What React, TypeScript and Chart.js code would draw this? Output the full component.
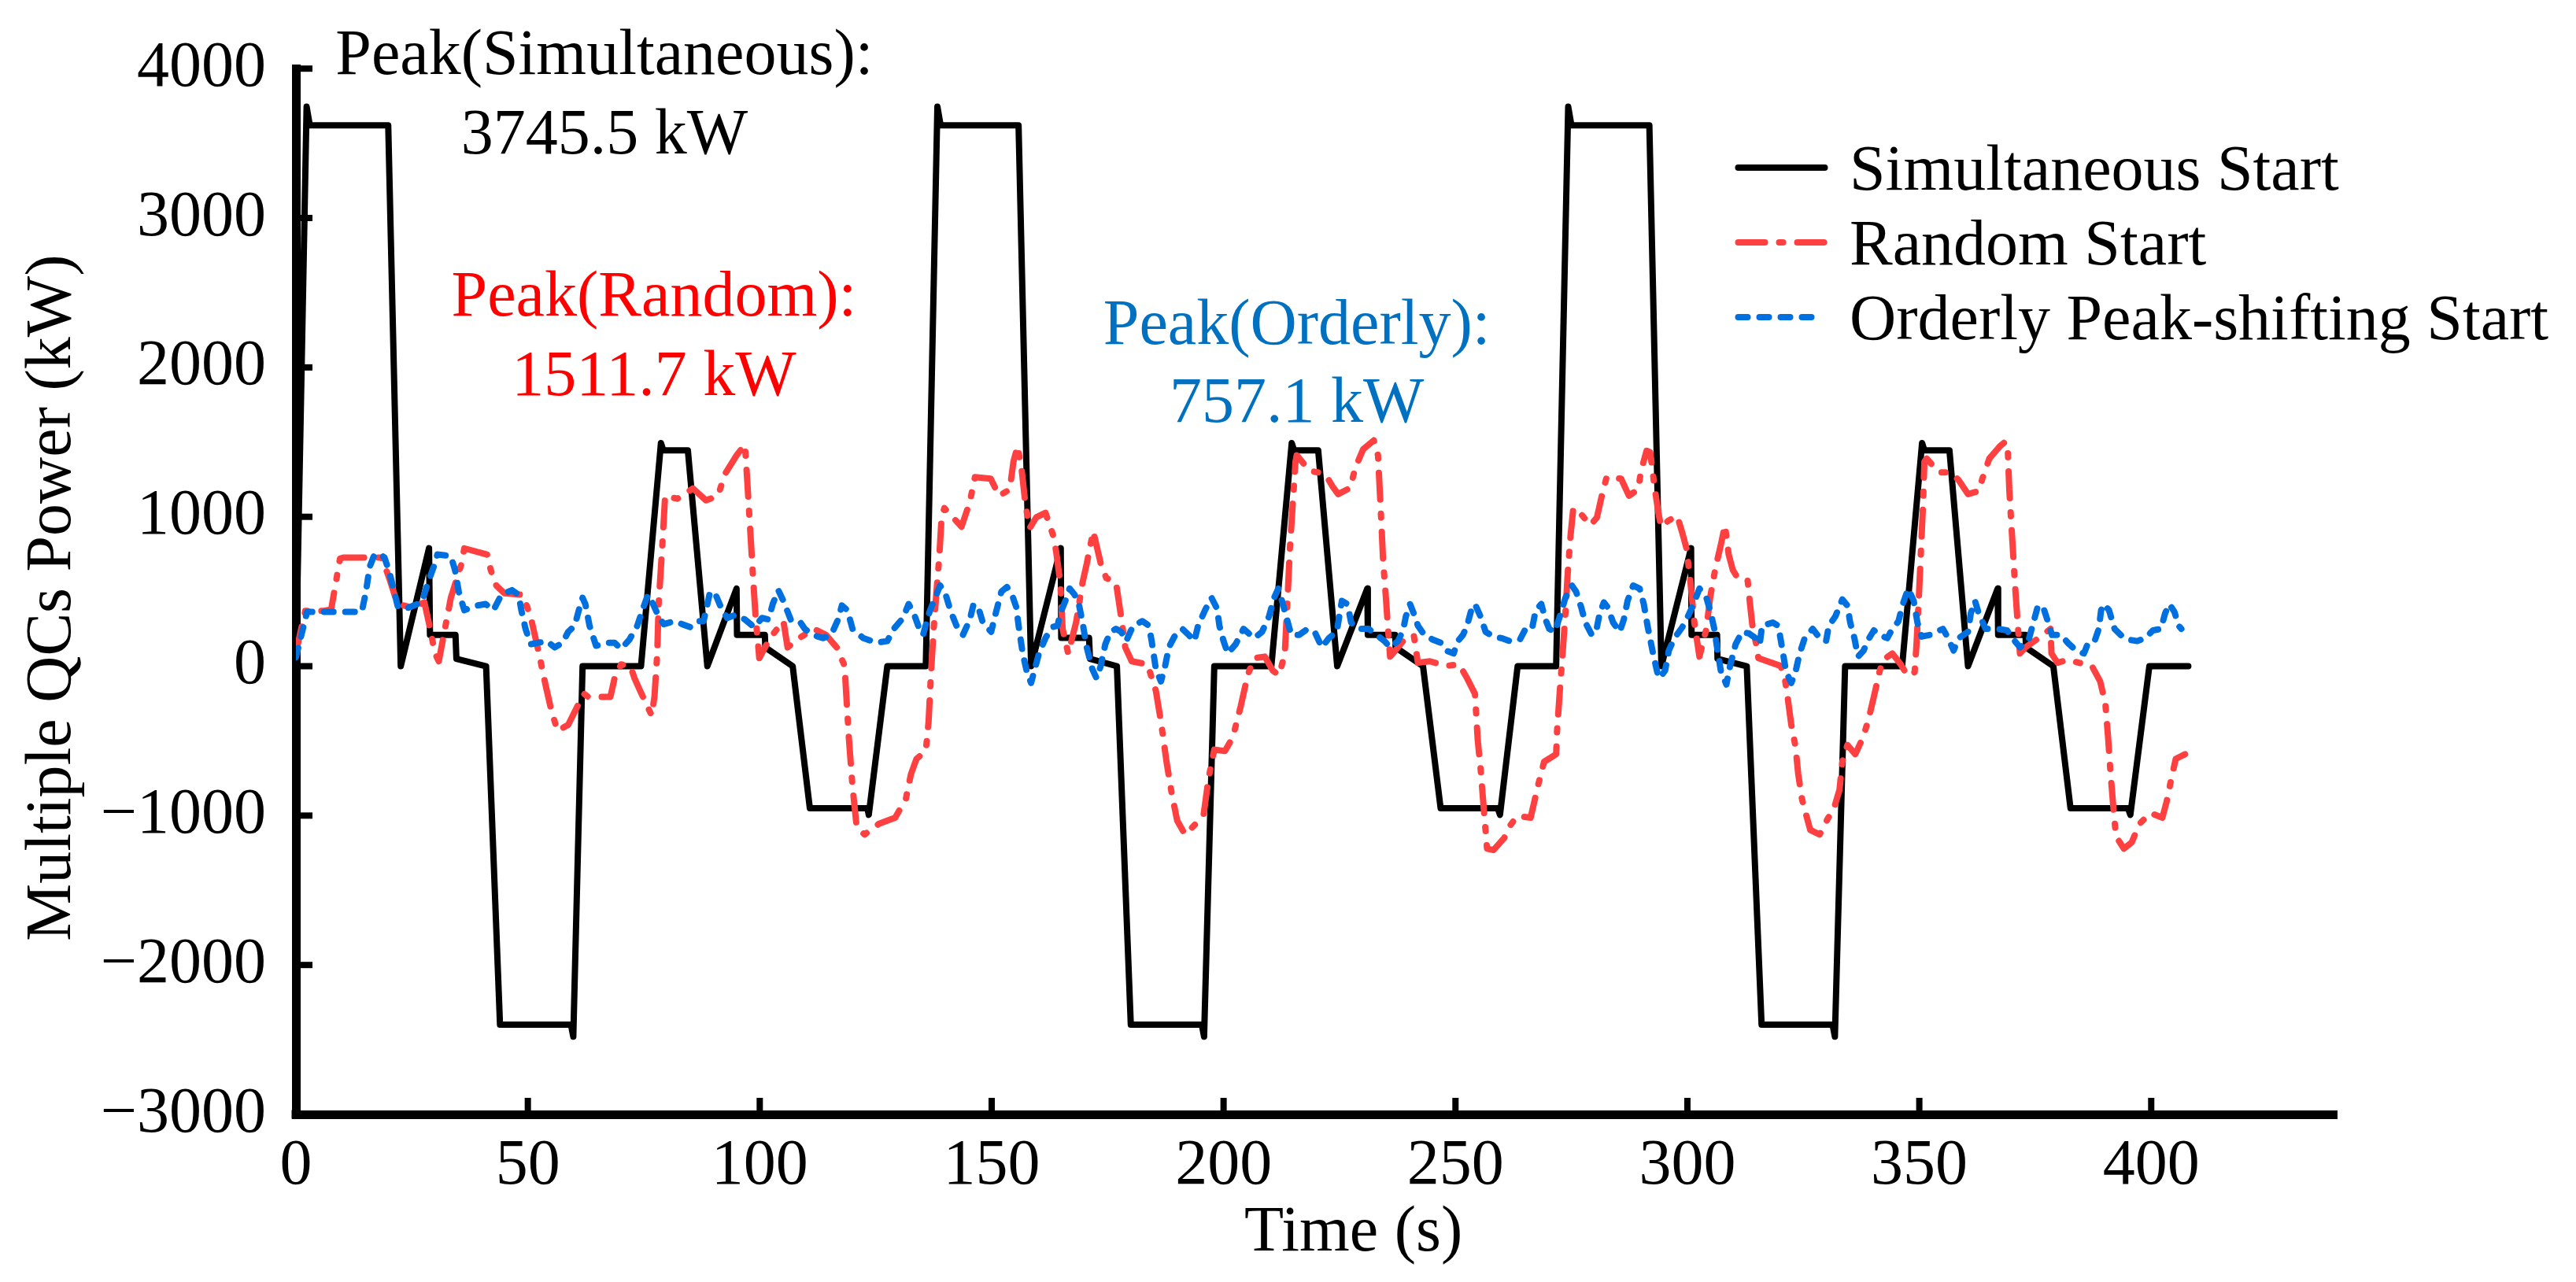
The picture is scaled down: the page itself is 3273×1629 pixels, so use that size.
import { useEffect, useRef } from "react"
import { Chart, registerables } from "chart.js"

Chart.register(...registerables)

const FONT = "'Liberation Serif', 'Times New Roman', serif"
const FONT_SIZE = 82

// axis ticks
const X_TICKS = [0, 50, 100, 150, 200, 250, 300, 350, 400]
const Y_TICKS = [-3000, -2000, -1000, 0, 1000, 2000, 3000, 4000]

const seriesLabels = ["Simultaneous Start", "Random Start", "Orderly Peak-shifting Start"]

// Simultaneous start (piecewise linear)
const simultaneousTime = [
  0, 2.3, 3, 19.9, 22.6, 28.7, 28.9, 34.4, 34.6, 41, 44, 59.3, 59.8, 61.8,
  74.4, 78.7, 79.2, 84.5, 88.7, 95, 95.1, 101.1, 101.2, 107.1, 110.8, 123.2, 123.5, 127.5,
  135.8, 138.3, 139, 155.8, 158.5, 164.9, 165, 171, 171.2, 177, 180, 195.3, 195.8, 198,
  210.3, 214.7, 215.2, 220.4, 224.5, 231, 231.1, 237, 237.1, 243, 246.8, 259.1, 259.6, 263.4,
  271.7, 274.3, 275, 291.8, 294.4, 300.8, 300.9, 306.4, 306.5, 312.8, 316, 331.3, 331.8, 334,
  346.3, 350.6, 351.1, 356.5, 360.5, 366.9, 367, 372.9, 373, 378.9, 382.6, 395, 395.5, 399.6,
  408,
]
const simultaneousPower = [
  0, 3745.5, 3620, 3620, 0, 790, 210, 210, 50, 0, -2400, -2400, -2480, 0,
  0, 1494, 1445, 1445, 0, 520, 210, 210, 126, 0, -951, -951, -995, 0,
  0, 3745.5, 3620, 3620, 0, 790, 190, 190, 50, 0, -2400, -2400, -2480, 0,
  0, 1494, 1445, 1445, 0, 520, 210, 210, 126, 0, -951, -951, -995, 0,
  0, 3745.5, 3620, 3620, 0, 790, 210, 210, 50, 0, -2400, -2400, -2480, 0,
  0, 1494, 1445, 1445, 0, 520, 210, 210, 126, 0, -951, -951, -995, 0,
  0,
]

// Random start
const randomTime = [
  0, 2, 6, 7.6, 9.5, 10.2, 18.5, 20.2, 21.9, 24.8, 27.7, 28.6, 30, 30.8, 33.4, 35.7, 36.3, 41.2,
  42, 43.2, 44.9, 48.9, 50.6, 51.2, 52.4, 53.8, 55, 56.4, 58.7, 60.7, 62.1, 63, 67.8, 68.7, 70.1,
  72.1, 73, 74.2, 75.6, 76.7, 77.3, 77.9, 78.2, 79, 79.6, 82.2, 85.6, 88.4, 91, 92.5, 95, 96.8,
  97.3, 97.9, 98.5, 99.1, 99.9, 102.2, 105.1, 106, 108.5, 111.7, 114.3, 116.6, 118.3, 118.6,
  119.2, 120, 120.9, 122.6, 125.7, 129.2, 131.5, 132.6, 133.8, 135.8, 136.4, 136.9, 137.5, 138.1,
  138.7, 139.2, 139.8, 143.5, 145.3, 146.4, 149.8, 151.6, 153.9, 154.7, 155.6, 156.5, 157.3,
  158.2, 159.6, 161.6, 163.3, 163.9, 164.8, 165.3, 166.5, 168.2, 169.6, 170.5, 171.9, 173.5,
  174.7, 176.8, 177.9, 178.8, 180.2, 183.6, 185.4, 186.5, 187.7, 188.8, 190, 191.7, 194, 195.7,
  196.8, 198, 200.3, 202, 203.7, 205.2, 206.6, 208.9, 210.6, 212, 213.2, 213.8, 214.3, 214.9,
  215.5, 215.8, 218.6, 220.4, 222.1, 223.5, 224.7, 227.3, 228.4, 230.1, 232.4, 233.3, 233.9,
  234.4, 235, 235.6, 235.9, 237.6, 238.7, 241, 241.9, 244.5, 247.9, 250.8, 252.5, 254.2, 254.8,
  255.4, 256.2, 256.8, 258.2, 260.5, 261.7, 263.3, 266.2, 267.9, 269.1, 271.7, 271.9, 272.5,
  273.1, 273.7, 274.2, 274.8, 275.4, 277.1, 279.1, 280.5, 281.7, 282.6, 285.7, 287.4, 289.4, 290,
  291.2, 292, 292.9, 293.7, 294.3, 296, 297.8, 298.9, 299.8, 300.6, 301.5, 302.6, 304.1, 304.9,
  306.1, 307.2, 308.1, 308.9, 309.8, 311, 313, 313.5, 314.1, 315, 315.3, 320.1, 321, 321.6, 322.4,
  323.3, 323.9, 324.7, 325.4, 326.5, 328.5, 330.2, 331.6, 332.8, 333.4, 334.5, 336.2, 337.9,
  339.1, 340.2, 341.4, 342.2, 344.2, 346, 347.5, 349, 349.4, 349.9, 350.5, 350.8, 351.1, 351.6,
  354.2, 356.8, 358.5, 360.5, 362.8, 363.7, 365.1, 367.4, 368.6, 369.1, 369.4, 370, 370.6, 371.2,
  371.7, 372.9, 375.7, 378.3, 378.5, 379.8, 382, 384.4, 387.2, 389, 390.1, 390.7, 391.2, 391.8,
  392.4, 394.1, 395.8, 397.5, 399.8, 402.4, 403.3, 404.4, 405.3, 407.3,
]
const randomPower = [
  90, 370, 370, 380, 720, 727, 727, 582, 416, 395, 427, 300, 85, 33, 458, 686, 789, 748,
  644, 540, 489, 478, 333, 250, 85, -123, -288, -433, -392, -268, -185, -205, -205, -81, 12,
  2, -81, -164, -257, -330, -205, 85, 416, 810, 1141, 1121, 1190, 1110, 1141, 1286, 1411, 1483,
  1245, 934, 623, 333, 54, 188, 302, 126, 188, 250, 209, 126, 2, -164,
  -475, -806, -1076, -1127, -1055, -1014, -889, -723, -620, -568, -371, -60, 250, 499,
  727, 996, 1058, 934, 1100, 1266, 1255, 1141, 1183, 1369, 1473, 1307, 1079,
  924, 996, 1027, 872, 768, 561, 250, 85, 292, 561, 686, 903, 690,
  590, 561, 333, 126, 33, 12, -164, -371, -640, -848, -1034, -1127, -1055, -993,
  -744, -558, -568, -475, -268, -60, 54, 64, -29, -60, 85, 458, 789, 1079,
  1369, 1411, 1307, 1297, 1276, 1203, 1152, 1193, 1328, 1452, 1511.7, 1411, 1038,
  706, 458, 188, 64, 126, 168, 209, 23, 33, 2, 12, -81, -185, -496,
  -682, -993, -1221, -1231, -1150, -1070, -1003, -1014, -786, -640, -589, -433, -164,
  85, 354, 623, 872, 1058, 1017, 944, 996, 1162, 1266, 1255, 1141, 1183, 1307,
  1442, 1431, 1203, 1038, 934, 976, 1007, 893, 789, 582, 292, 64, 250, 458,
  665, 810, 944, 748, 644, 582, 572, 416, 250, 126, 54, 2, -81, -205, -392,
  -537, -723, -889, -972, -1096, -1127, -1024, -951, -827, -640, -527, -589, -475,
  -350, -205, -40, 43, 85, 12, -65, -40, 147, 458, 872, 1079, 1369, 1390,
  1297, 1297, 1245, 1152, 1172, 1266, 1390, 1473, 1504, 1431, 1183, 872, 561, 292,
  85, 126, 188, 250, 85, 23, 43, 23, 2, -102, -247, -475, -703, -931,
  -1138, -1221, -1179, -1055, -982, -1014, -910, -744, -620, -589,
]

// Orderly peak-shifting start
const orderlyTime = [
  0, 2.4, 14.2, 15.1, 15.9, 16.8, 17.8, 19.1, 20.2, 22, 23.7, 27.1, 28.5, 29.7, 30.5, 33.4, 34.3,
  35.1, 36.3, 39.1, 40.9, 42.6, 44.3, 46.6, 48, 48.6, 49.5, 50.6, 54.1, 55.8, 57.5, 58.7, 60.1,
  61, 61.8, 62.4, 63.3, 64.7, 67.3, 68.7, 70.1, 71.9, 73.6, 74.7, 75.9, 77, 78.2, 79.3, 81.6,
  83.3, 85.1, 86.8, 87.9, 89.3, 90.5, 91.9, 93, 94.8, 96.8, 98.8, 100.5, 101.9, 102.8, 104,
  105.1, 106.8, 108.8, 109.7, 111.4, 113.7, 115.4, 116.9, 117.7, 118.9, 120, 122.3, 125.2,
  127.5, 128.9, 130.9, 132.1, 133.2, 134.4, 135.2, 136.6, 137.8, 138.9, 140.1, 141.2, 142.7,
  143.8, 145.3, 146.1, 147.3, 148.1, 149.9, 150.7, 152.1, 153.3, 154.4, 155.3, 155.9, 156.7,
  157.6, 158.5, 159.3, 160.2, 161.6, 163, 164.2, 164.8, 165.9, 166.8, 167.9, 168.8, 169.6,
  170.5, 171.7, 172.6, 173.5, 174.5, 175.6, 176.8, 177.9, 179, 180.5, 182.5, 183.9, 184.5,
  185.4, 186.5, 187.4, 188.2, 189.4, 191.1, 192.5, 193.7, 194.5, 196, 197.4, 198.6, 199.1,
  200, 200.9, 202.6, 204.3, 206.6, 208.3, 209.8, 210.9, 211.8, 212.6, 213.5, 214.6, 216.3,
  218.1, 219.8, 221.2, 222.7, 224.4, 225.5, 226.7, 227.5, 229, 231.3, 233, 234.7, 235.9, 237.6,
  238.7, 239.3, 240.2, 241, 241.9, 243.3, 245.1, 246.8, 247.9, 249.6, 250.5, 251.6, 252.5,
  253.4, 254.2, 255.4, 256.5, 258.2, 259.9, 261.7, 263.9, 265.1, 266.5, 267.3, 268.5, 269.4,
  270.2, 271.4, 272.5, 273.7, 275.1, 276, 277.1, 278, 279.4, 280.3, 281.1, 282, 282.8, 284,
  285.4, 286.3, 287.1, 288.3, 289.7, 290.6, 291.4, 292.6, 293.5, 294, 295.2, 296, 297.2, 298.9,
  300.1, 301.2, 302.6, 304.1, 304.9, 305.8, 306.4, 307.2, 308.4, 309.2, 310.4, 311.8, 313.3,
  314.7, 315.6, 316.1, 318.4, 319.6, 320.4, 321.3, 322.4, 323.3, 324.2, 325.3, 327, 328.8,
  329.9, 330.5, 331.9, 333.4, 334.5, 335.1, 336, 336.8, 338, 338.8, 340.2, 341.4, 343.1, 344.2,
  345.5, 346.5, 347.6, 348.8, 349.6, 350.5, 352.2, 355.1, 356.2, 357.4, 358.5, 360.5, 361.1,
  362, 362.8, 364.3, 366.9, 368.9, 370.6, 371.7, 373.5, 374.6, 375.5, 376.6, 377.8, 378.6,
  380.6, 382, 383.8, 385.5, 386.4, 387.8, 388.7, 389.2, 389.8, 390.9, 392.1, 393.8, 395, 397,
  398.7, 400.4, 402.1, 403, 403.9, 405, 405.9, 406.5,
]
const orderlyPower = [
  60, 364, 364, 499, 665, 737, 757.1, 727, 623, 395, 385, 427, 561, 665, 748, 737, 644,
  499, 375, 406, 416, 375, 478, 509, 478, 375, 250, 147, 168, 126, 157, 230, 271,
  375, 458, 416, 271, 137, 157, 157, 116, 178, 271, 375, 478, 416, 333, 281, 302,
  281, 260, 302, 302, 499, 478, 375, 323, 344, 313, 261, 323, 313, 416, 509,
  437, 302, 292, 250, 209, 188, 209, 313, 406, 375, 250, 188, 157,
  168, 250, 323, 416, 354, 250, 209, 364, 458, 540, 478, 364, 250,
  209, 313, 416, 375, 292, 230, 333, 499, 530, 478, 395, 250, 85,
  -40, -112, -19, 85, 188, 261, 271, 354, 437, 520, 478, 416, 292,
  126, -19, -81, 0, 147, 230, 250, 230, 168, 271, 302, 271, 168,
  -19, -102, 2, 126, 198, 250, 209, 168, 271, 375, 458, 385, 271,
  168, 85, 147, 250, 188, 230, 333, 458, 520, 437, 333, 209, 209,
  250, 219, 126, 188, 230, 437, 416, 292, 250, 250, 209, 168, 126, 168,
  240, 333, 416, 354, 271, 209, 178, 157, 105, 85, 168, 209, 271,
  375, 416, 333, 230, 198, 188, 168, 178, 250, 250, 375, 416, 313,
  250, 230, 333, 458, 540, 499, 395, 292, 209, 230, 354, 427, 395, 292,
  230, 313, 437, 540, 520, 416, 271, 85, -40, -81, -29, 105, 188, 261,
  333, 406, 520, 458, 375, 250, 126, -29, -123, 2, 147, 230, 219,
  188, 147, 271, 292, 271, 126, -40, -112, -40, 85, 188, 250, 178,
  168, 271, 333, 447, 406, 292, 188, 64, 105, 168, 240, 209, 188, 250,
  300, 420, 520, 437, 292, 198, 209, 250, 188, 105, 188, 230, 354,
  437, 354, 250, 250, 240, 168, 126, 168, 292, 395, 406, 292, 209,
  209, 157, 105, 85, 157, 168, 250, 375, 416, 375, 250, 198, 178, 168,
  188, 240, 250, 354, 416, 364, 271, 250,
]

// peak annotations: text lines, colour, anchor (time, power of each baseline)
const peakNotes = [
  { lines: ["Peak(Simultaneous):", "3745.5 kW"], color: "#000000", t: 66.5, p: [3962, 3433] },
  { lines: ["Peak(Random):", "1511.7 kW"], color: "#FF0000", t: 77.2, p: [2348, 1813] },
  { lines: ["Peak(Orderly):", "757.1 kW"], color: "#0070C0", t: 215.8, p: [2159, 1635] },
]

const toPoints = (t: number[], p: number[]) => t.map((x, i) => ({ x, y: p[i] }))

const legendSampleLength = [110, 109, 93]

const decorations = {
  id: "decorations",
  beforeDatasetsDraw(chart: any) {
    const { ctx, chartArea: a, scales } = chart
    const x = scales.x
    const y = scales.y
    ctx.save()
    ctx.strokeStyle = "#000"
    ctx.lineWidth = 8
    // inward tick marks
    Y_TICKS.forEach((v) => {
      const py = y.getPixelForValue(v)
      ctx.beginPath()
      ctx.moveTo(a.left, py)
      ctx.lineTo(a.left + 21, py)
      ctx.stroke()
    })
    X_TICKS.forEach((v) => {
      const px = x.getPixelForValue(v)
      ctx.beginPath()
      ctx.moveTo(px, a.bottom)
      ctx.lineTo(px, a.bottom - 21)
      ctx.stroke()
    })
    ctx.fillStyle = "#000"
    ctx.fillRect(a.left - 5.5, a.bottom - 5.5, 11, 11)
    ctx.restore()
  },
  afterDraw(chart: any) {
    const { ctx, chartArea: a, scales } = chart
    const x = scales.x
    const y = scales.y
    ctx.save()
    ctx.font = `${FONT_SIZE}px ${FONT}`
    ctx.textBaseline = "alphabetic"

    // peak notes
    ctx.textAlign = "center"
    peakNotes.forEach((n) => {
      ctx.fillStyle = n.color
      n.lines.forEach((line, i) => {
        ctx.fillText(line, x.getPixelForValue(n.t), y.getPixelForValue(n.p[i]))
      })
    })

    // axis titles
    ctx.fillStyle = "#000"
    ctx.fillText("Time (s)", x.getPixelForValue(228), 1589)
    ctx.save()
    ctx.translate(89, (a.top + a.bottom) / 2 + 8)
    ctx.rotate(-Math.PI / 2)
    ctx.fillText("Multiple QCs Power (kW)", 0, 0)
    ctx.restore()

    // legend
    chart.data.datasets.forEach((ds: any, i: number) => {
      const rowY = 213 + i * 95
      ctx.strokeStyle = ds.borderColor
      ctx.lineWidth = ds.borderWidth
      ctx.lineCap = "round"
      ctx.setLineDash(ds.borderDash || [])
      ctx.beginPath()
      ctx.moveTo(2208.5, rowY)
      ctx.lineTo(2208.5 + legendSampleLength[i], rowY)
      ctx.stroke()
      ctx.setLineDash([])
      ctx.textAlign = "left"
      ctx.fillStyle = "#000"
      ctx.fillText(ds.label, 2350, rowY + 28)
    })
    ctx.restore()
  },
}

export default function App() {
  const canvasRef = useRef<HTMLCanvasElement>(null)
  const chartRef = useRef<Chart | null>(null)

  useEffect(() => {
    if (!canvasRef.current) return
    if (chartRef.current) chartRef.current.destroy()

    const tickFont = { family: FONT, size: FONT_SIZE }

    chartRef.current = new Chart(canvasRef.current, {
      type: "line",
      data: {
        datasets: [
          {
            label: seriesLabels[0],
            data: toPoints(simultaneousTime, simultaneousPower),
            borderColor: "#000000",
            borderWidth: 8,
            borderJoinStyle: "round",
            borderCapStyle: "round",
            pointRadius: 0,
            tension: 0,
            order: 3,
          },
          {
            label: seriesLabels[1],
            data: toPoints(randomTime, randomPower),
            borderColor: "#FF4040",
            borderWidth: 8,
            borderDash: [34, 18, 5, 18],
            borderCapStyle: "round",
            borderJoinStyle: "round",
            pointRadius: 0,
            tension: 0,
            order: 2,
          },
          {
            label: seriesLabels[2],
            data: toPoints(orderlyTime, orderlyPower),
            borderColor: "#0070E0",
            borderWidth: 8,
            borderDash: [12, 15],
            borderCapStyle: "round",
            borderJoinStyle: "round",
            pointRadius: 0,
            tension: 0,
            order: 1,
          },
        ],
      },
      options: {
        animation: false,
        responsive: true,
        maintainAspectRatio: false,
        layout: { padding: { left: 0, top: 81, right: 304, bottom: 0 } },
        plugins: {
          legend: { display: false },
          tooltip: { enabled: false },
        },
        scales: {
          x: {
            type: "linear",
            min: 0,
            max: 440,
            afterBuildTicks: (s: any) => {
              s.ticks = X_TICKS.map((value) => ({ value }))
            },
            afterFit: (s: any) => {
              s.height = 213
            },
            grid: { display: false, drawTicks: false },
            border: { display: true, width: 11, color: "#000" },
            ticks: { autoSkip: false, maxRotation: 0, padding: 17, color: "#000", font: tickFont },
          },
          y: {
            min: -3000,
            max: 4000,
            afterBuildTicks: (s: any) => {
              s.ticks = Y_TICKS.map((value) => ({ value }))
            },
            afterFit: (s: any) => {
              s.width = 376
            },
            grid: { display: false, drawTicks: false },
            border: { display: true, width: 11, color: "#000" },
            ticks: {
              padding: 38,
              color: "#000",
              font: tickFont,
              callback: (v: any) => (v < 0 ? "\u2212" + Math.abs(v) : String(v)),
            },
          },
        },
      },
      plugins: [decorations],
    })

    return () => {
      if (chartRef.current) {
        chartRef.current.destroy()
        chartRef.current = null
      }
    }
  }, [])

  return (
    <div style={{ position: "fixed", left: 0, top: 0, width: "3273px", height: "1629px", background: "#fff" }}>
      <canvas ref={canvasRef}></canvas>
    </div>
  )
}
